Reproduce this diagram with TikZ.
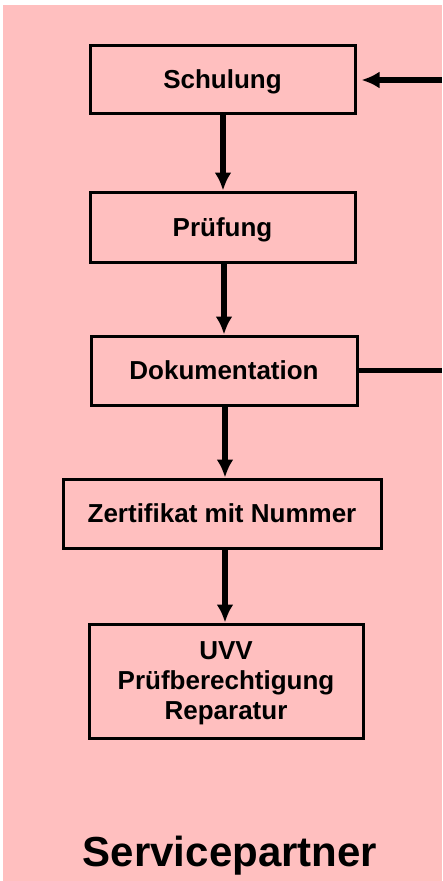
\documentclass[tikz,border=0pt]{standalone}
\usepackage{fontspec}
\setmainfont{Liberation Sans}
\usetikzlibrary{arrows.meta}
\definecolor{rosa}{RGB}{255,191,191}

\begin{document}
\begin{tikzpicture}[x=1pt,y=1pt,
  kasten/.style={draw,line width=3pt,fill=rosa,inner sep=0pt,align=center,
    text depth=0pt,font=\fontsize{26}{30}\selectfont\bfseries},
  pfeil/.style={line width=5.5pt,-{Latex[length=18pt,width=17pt]}},
  linie/.style={line width=5.5pt}]

\useasboundingbox (0,0) rectangle (442,-881);
\fill[rosa] (3,-5) rectangle (442,-881);

\node[kasten,minimum width=265,minimum height=68](1) at(222.5,-79){Schulung};
\node[kasten,minimum width=265,minimum height=70](2) at(222.5,-227){Pr\"ufung};
\node[kasten,minimum width=266,minimum height=69](3) at(224,-370.5){Dokumentation};
\node[kasten,minimum width=318,minimum height=69](4) at(222,-513.5){Zertifikat mit Nummer};
\node[kasten,minimum width=274,minimum height=114](5) at(226,-681){UVV\\Pr\"ufberechtigung\\Reparatur};
\node[font=\fontsize{42}{50}\selectfont\bfseries](6) at(230,-856){Servicepartner};

\coordinate(r1) at(442,-80);
\coordinate(r2) at(442,-370.5);

\draw[pfeil](1.south-|223,0)--(2.north-|223,0);
\draw[pfeil](2.south-|224,0)--(3.north-|224,0);
\draw[pfeil](3.south-|225,0)--(4.north-|225,0);
\draw[pfeil](4.south-|225,0)--(5.north-|225,0);
\draw[pfeil,shorten >=5pt](r1)--(r1-|1.east);
\draw[linie](3)--(r2);
\end{tikzpicture}
\end{document}
